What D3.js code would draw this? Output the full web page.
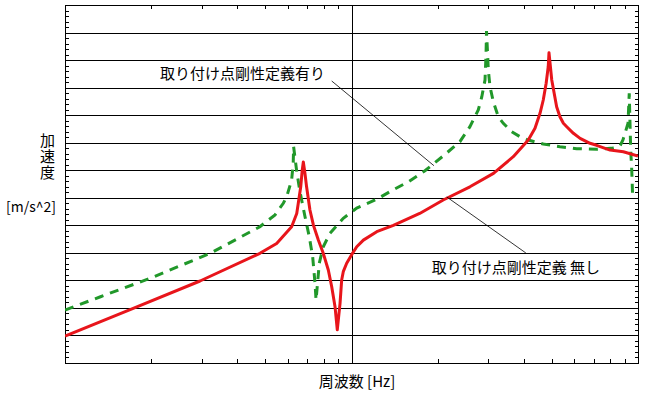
<!DOCTYPE html>
<html>
<head>
<meta charset="utf-8">
<script src="https://cdn.jsdelivr.net/npm/d3@7"></script>
<style>
	body { margin: 0; background: #fff; }
	svg { display: block; font-family: 'Noto Sans CJK JP', sans-serif; }
</style>
</head>
<body>
<svg class="frf"></svg>
<script>
// 取り付け点剛性定義 無し (red, solid)
const freqNashi = [10, 17.3, 29.6, 47.9, 54.8, 61.8, 64.4, 65.2, 66.5, 67.3, 67.9, 68.8, 69.7, 71.6, 73.6,
	76.6, 79.7, 83.0, 85.3, 87.6, 89.2, 91.2, 92.4, 93.6, 96.2, 100, 104.3, 110, 122.5, 140, 173, 209, 259,
	313, 367, 414, 437, 455, 467, 478, 486, 489, 500, 520, 534, 549, 564, 595, 628, 680, 717, 799, 889, 1000];
const accNashi = [9.5e-6, 9.7e-5, 9.5e-4, 9.6e-3, 0.022, 0.089, 0.27, 0.63, 2.5, 10, 20, 7.7, 2.5, 0.36, 0.103,
	0.0292, 9.6e-3, 2.38e-3, 5.9e-4, 1.11e-4, 1.6e-5, 1.47e-4, 1.03e-3, 2.07e-3, 4.17e-3, 8.4e-3, 0.0167, 0.029, 0.0586, 0.10, 0.27, 0.83, 2.5,
	7.7, 31, 125, 333, 1170, 3550, 14400, 57400, 185000, 18900, 2030, 879, 506, 381, 219, 144, 95, 80.4, 54, 47.1, 33];

// 取り付け点剛性定義有り (green, dashed)
const freqAri = [10, 13.3, 19.8, 32.1, 47.9, 54.1, 57.8, 59.4, 61.8, 62.6, 62.8, 64.4, 66.1, 68.8, 71.2,
	73.2, 74.6, 75.2, 77.2, 79.7, 84.1, 93.6, 104.3, 122.5, 138.1, 157.9, 180.5, 209, 239, 259, 277, 285,
	292.4, 294.8, 296, 300.3, 304.4, 312.6, 325.3, 338.7, 362.4, 387.3, 414, 467, 534, 611, 717, 818, 865, 886, 923,
	932, 943, 951, 958];
const accAri = [8.4e-5, 2.55e-4, 1.19e-3, 9.6e-3, 0.089, 0.24, 0.63, 1.09, 4.4, 17.9, 71.5, 8.9, 1.66, 0.21, 0.039,
	7.2e-3, 7.8e-4, 1.94e-4, 4.2e-3, 0.0167, 0.051, 0.18, 0.42, 0.88, 1.81, 3.8, 9.6, 33, 109, 381, 1540, 4680,
	18900, 153000, 1.14e6, 43700, 10800, 3080, 880, 506, 251, 165, 125, 89.5, 71.5, 60.5, 57.5, 64, 76, 125, 506,
	6200, 54, 10.2, 1.07];

const xMinorTicks = [20, 30, 40, 50, 60, 70, 80, 90, 200, 300, 400, 500, 600, 700, 800, 900];
const xMajorTicks = [100];
const yGridTicks = [1e-5, 1e-4, 1e-3, 1e-2, 1e-1, 1, 10, 1e2, 1e3, 1e4, 1e5, 1e6];
const yMinorSteps = [0.2, 0.4, 0.6, 0.8];

const yTitle = '加速度';
const yUnit = '[m/s^2]';
const xTitle = '周波数 [Hz]';
const noteAri = { text: '取り付け点剛性定義有り', f: 80.8, a: 34000, from: [85.3, 17400], to: [194, 14.6] };
const noteNashi = { text: '取り付け点剛性定義 無し', f: 190.6, a: 3.3e-3, from: [215, 1.07], to: [406, 9.9e-3] };

const svg = d3.select('.frf')
	.attr('width', 662)
	.attr('height', 394);

const width = +svg.attr('width'),
	height = +svg.attr('height');

const margin = { top: 5, right: 24, bottom: 31, left: 65 };
const innerWidth = width - margin.left - margin.right;
const innerHeight = height - margin.top - margin.bottom;

const xScale = d3.scaleLog()
	.domain([10, 1000])
	.range([0, innerWidth]);

const yScale = d3.scaleLog()
	.domain([1e-6, 1e7])
	.range([innerHeight, 0]);

const yMinorTicks = [];
d3.range(-6, 7).forEach(k => yMinorSteps.forEach(s => yMinorTicks.push(Math.pow(10, k + s))));

const g = svg.append('g')
	.attr('transform', `translate(${margin.left}, ${margin.top})`);

// grid
g.append('g').call(d3.axisLeft(yScale).tickValues(yGridTicks).tickSize(-innerWidth).tickFormat(''))
	.call(a => a.select('.domain').remove());
g.append('g').call(d3.axisLeft(yScale).tickValues(yMinorTicks).tickSize(-4).tickFormat(''))
	.call(a => a.select('.domain').remove());
g.append('g')
	.attr('transform', `translate(${innerWidth}, 0)`)
	.call(d3.axisRight(yScale).tickValues(yMinorTicks).tickSize(-3).tickFormat(''))
	.call(a => a.select('.domain').remove());
g.append('g')
	.attr('transform', `translate(0, ${innerHeight})`)
	.call(d3.axisBottom(xScale).tickValues(xMinorTicks).tickSize(-4).tickFormat(''))
	.call(a => a.select('.domain').remove());
g.append('g').call(d3.axisTop(xScale).tickValues(xMinorTicks).tickSize(-4).tickFormat(''))
	.call(a => a.select('.domain').remove());
g.append('g')
	.attr('transform', `translate(0, ${innerHeight})`)
	.call(d3.axisBottom(xScale).tickValues(xMajorTicks).tickSize(-innerHeight).tickFormat(''))
	.call(a => a.select('.domain').remove());

g.selectAll('.tick line')
	.attr('stroke', '#000')
	.attr('shape-rendering', 'crispEdges');

g.append('rect')
	.attr('width', innerWidth)
	.attr('height', innerHeight)
	.attr('fill', 'none')
	.attr('stroke', '#000')
	.attr('shape-rendering', 'crispEdges');

// curves
g.append('clipPath').attr('id', 'plot')
	.append('rect').attr('width', innerWidth).attr('height', innerHeight);

const line = d3.line()
	.x(d => xScale(d.f))
	.y(d => yScale(d.a));

const nashi = freqNashi.map((f, i) => ({ f, a: accNashi[i] }));
const ari = freqAri.map((f, i) => ({ f, a: accAri[i] }));

g.append('path')
	.datum(ari)
	.attr('clip-path', 'url(#plot)')
	.attr('d', line)
	.attr('fill', 'none')
	.attr('stroke', '#21982a')
	.attr('stroke-width', 3)
	.attr('stroke-dasharray', '9,7');

g.append('path')
	.datum(nashi)
	.attr('clip-path', 'url(#plot)')
	.attr('d', line)
	.attr('fill', 'none')
	.attr('stroke', '#e8151b')
	.attr('stroke-width', 3)
	.attr('stroke-linejoin', 'round');

// annotations
[noteAri, noteNashi].forEach(n => {
	g.append('line')
		.attr('x1', xScale(n.from[0])).attr('y1', yScale(n.from[1]))
		.attr('x2', xScale(n.to[0])).attr('y2', yScale(n.to[1]))
		.attr('stroke', '#000')
		.attr('stroke-width', 0.8);
});

g.append('text')
	.attr('x', xScale(noteAri.f))
	.attr('y', yScale(noteAri.a))
	.attr('text-anchor', 'end')
	.attr('dominant-baseline', 'central')
	.attr('font-size', 15)
	.text(noteAri.text);

g.append('text')
	.attr('x', xScale(noteNashi.f))
	.attr('y', yScale(noteNashi.a))
	.attr('dominant-baseline', 'central')
	.attr('font-size', 15)
	.text(noteNashi.text);

// axis titles
svg.append('text')
	.attr('x', 47.5)
	.attr('y', 133)
	.attr('writing-mode', 'vertical-rl')
	.attr('letter-spacing', 1)
	.attr('font-size', 15)
	.text(yTitle);

svg.append('text')
	.attr('x', 31)
	.attr('y', 205.5)
	.attr('text-anchor', 'middle')
	.attr('dominant-baseline', 'central')
	.attr('font-size', 14)
	.text(yUnit);

svg.append('text')
	.attr('x', 357)
	.attr('y', 380)
	.attr('text-anchor', 'middle')
	.attr('dominant-baseline', 'central')
	.attr('font-size', 15)
	.text(xTitle);
</script>
</body>
</html>
